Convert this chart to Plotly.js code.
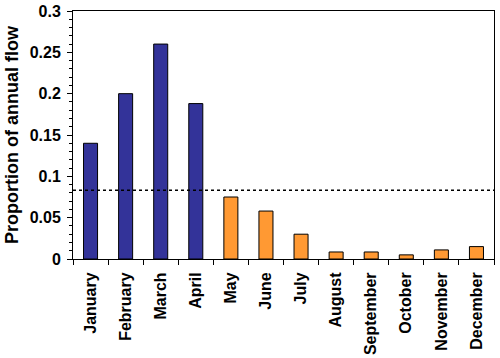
<!DOCTYPE html>
<html>
<head>
<meta charset="utf-8">
<script src="https://cdn.plot.ly/plotly-3.0.1.min.js"></script>
<style>html,body{margin:0;padding:0;background:#fff;}#chart{width:500px;height:358px;}</style>
</head>
<body>
<div id="chart"></div>
<script>
var wetMonths = ["January", "February", "March", "April"];
var wetValues = [0.14, 0.2, 0.26, 0.188];
var dryMonths = ["May", "June", "July", "August", "September", "October", "November", "December"];
var dryValues = [0.075, 0.058, 0.03, 0.0085, 0.0085, 0.005, 0.011, 0.015];
var meanLevel = [0.0833];
var allMonths = wetMonths.concat(dryMonths);
var yTitle = "Proportion of annual flow";

var fontFam = "Liberation Sans, Arial, sans-serif";

var traces = [
  {type: "bar", x: wetMonths, y: wetValues, marker: {color: "#333399", line: {color: "#000000", width: 1}}, hoverinfo: "x+y"},
  {type: "bar", x: dryMonths, y: dryValues, marker: {color: "#FF9933", line: {color: "#000000", width: 1}}, hoverinfo: "x+y"}
];

var layout = {
  width: 500, height: 358,
  margin: {l: 73, r: 6, t: 11, b: 99, pad: 0},
  paper_bgcolor: "#ffffff", plot_bgcolor: "#ffffff",
  showlegend: false,
  barmode: "group",
  bargap: 0.6,
  font: {family: fontFam, color: "#000000", size: 15, weight: "bold"},
  xaxis: {
    type: "category", categoryorder: "array", categoryarray: allMonths,
    tickangle: -90, tickson: "boundaries", ticks: "outside", ticklen: 5, tickcolor: "#000",
    ticklabelstandoff: 6,
    showline: true, linecolor: "#000", linewidth: 1, mirror: true,
    showgrid: false, zeroline: false,
    tickfont: {family: fontFam, size: 16, weight: "bold", color: "#000"}
  },
  yaxis: {
    range: [0, 0.3], dtick: 0.05, tick0: 0,
    ticks: "outside", ticklen: 5, tickcolor: "#000",
    ticklabelstandoff: 3,
    minor: {dtick: 0.01, ticks: "outside", ticklen: 3, tickcolor: "#000", showgrid: false},
    showline: true, linecolor: "#000", linewidth: 1, mirror: true,
    showgrid: false, zeroline: false,
    tickfont: {family: fontFam, size: 16, weight: "bold", color: "#000"},
    title: {text: yTitle, font: {family: fontFam, size: 18, weight: "bold", color: "#000"}, standoff: 6}
  },
  shapes: meanLevel.map(function (v) {
    return {type: "line", xref: "paper", x0: 0, x1: 1, yref: "y", y0: v, y1: v,
      line: {color: "#000", width: 1.5, dash: "3px,3px"}};
  })
};

Plotly.newPlot("chart", traces, layout, {displayModeBar: false, staticPlot: true});
</script>
</body>
</html>
